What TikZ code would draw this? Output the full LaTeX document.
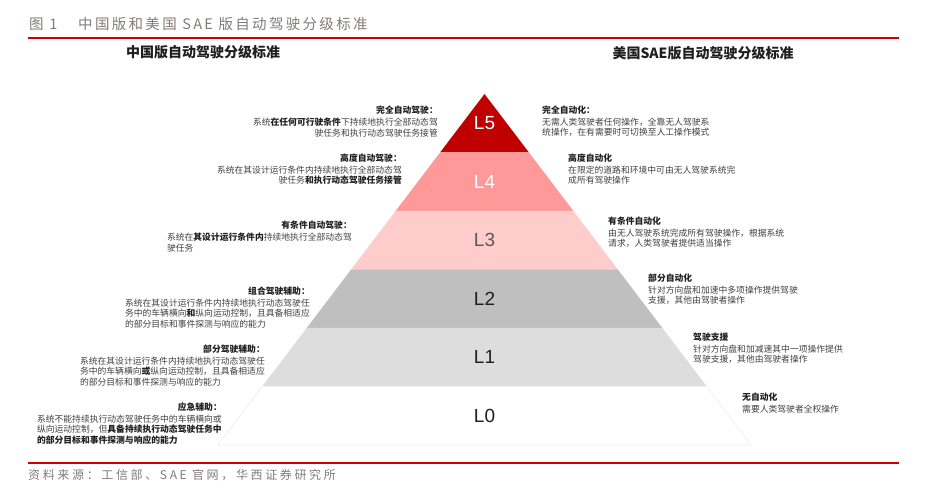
\documentclass[tikz,border=0pt]{standalone}
\usepackage{fontspec}
\setmainfont{Noto Sans CJK SC}
\newfontfamily\levelfont{Liberation Sans}
\newfontfamily\captionfont[LetterSpace=16]{Noto Sans CJK SC}
\newfontfamily\sourcefont[LetterSpace=22]{Noto Sans CJK SC}
\usepackage{tikz}
\usetikzlibrary{positioning}
\definecolor{ink}{HTML}{1F1F1F}
\definecolor{bodygray}{HTML}{404040}
\definecolor{headgray}{HTML}{847A7A}
\definecolor{rulered}{HTML}{CC0000}
\definecolor{lvfive}{HTML}{C00000}
\definecolor{lvfour}{HTML}{FF9999}
\definecolor{lvthree}{HTML}{FFCCCC}
\definecolor{lvtwo}{HTML}{BFBFBF}
\definecolor{lvone}{HTML}{DDDDDD}
\definecolor{lvzero}{HTML}{FFFFFF}
\definecolor{lvthreetext}{HTML}{595959}

\tikzset{
  levellabel/.style={font=\levelfont\fontsize{19}{22}\selectfont,inner sep=0pt},
  blocktitle/.style={font=\fontsize{8.8}{10.8}\selectfont\bfseries,text=ink,inner sep=0pt},
  blockbody/.style={font=\fontsize{8.8}{10.8}\selectfont,text=bodygray,inner sep=0pt},
  subhead/.style={font=\fontsize{14}{16}\selectfont\bfseries,text=ink,inner sep=0pt},
  captext/.style={font=\captionfont\fontsize{14.5}{17}\selectfont,text=headgray,inner sep=0pt,anchor=west},
  srctext/.style={font=\sourcefont\fontsize{12}{14}\selectfont,text=headgray,inner sep=0pt,anchor=west},
}
\newcommand{\keyterm}[1]{\textbf{\color{ink}#1}}

\begin{document}
\begin{tikzpicture}[x=1pt,y=-1pt]
  \useasboundingbox (0,0) rectangle (929,494);
  \def\apexx{484.5}
  \def\apexy{94}
  \def\layh{58.5}
  \def\slope{0.76}

  % Figure caption with its red rule.
  \node[captext] (capnum) at (29,24) {图 1};
  \node[captext] (captitle) at (78,24) {中国版和美国 SAE 版自动驾驶分级标准};
  \draw[rulered,line width=2.2pt] (28,38) -- (899,38);

  \node[subhead] (cnhead) at (203,52) {中国版自动驾驶分级标准};
  \node[subhead] (ushead) at (703,53) {美国SAE版自动驾驶分级标准};

  % Pyramid bands, top (L5) to bottom (L0).
  \foreach \lv/\fillc/\txtc [count=\i from 0] in
      {5/lvfive/white,4/lvfour/white,3/lvthree/lvthreetext,2/lvtwo/ink,1/lvone/ink,0/lvzero/ink}{
    \pgfmathsetmacro{\ya}{\apexy+\i*\layh}
    \pgfmathsetmacro{\yb}{\ya+\layh}
    \pgfmathsetmacro{\wa}{(\ya-\apexy)*\slope}
    \pgfmathsetmacro{\wb}{(\yb-\apexy)*\slope}
    \fill[\fillc] (\apexx-\wa,\ya) -- (\apexx+\wa,\ya) -- (\apexx+\wb,\yb)
      -- (\apexx-\wb,\yb) -- cycle;
    \node[levellabel,text=\txtc] (lv\lv) at (\apexx,{(\ya+\yb)/2}) {L\lv};
  }
  % L0 is white, only a faint outline shows it.
  \pgfmathsetmacro{\wz}{5*\layh*\slope}
  \pgfmathsetmacro{\wzb}{6*\layh*\slope}
  \draw[black!7,line width=0.6pt] (\apexx-\wz,\apexy+5*\layh) -- (\apexx-\wzb,\apexy+6*\layh)
    -- (\apexx+\wzb,\apexy+6*\layh) -- (\apexx+\wz,\apexy+5*\layh);

  % Chinese standard, left of the pyramid.
  \newcommand{\cnblock}[6]{%
    \node[blocktitle,anchor=east] (#1title) at (#2,#3) {#5};
    \node[blockbody,anchor=north east,align=#4] (#1body) at (#2,#3+7.5) {#6};
  }
  \cnblock{cnfive}{438}{110}{right}{完全自动驾驶：}
    {系统\keyterm{在任何可行驶条件}下持续地执行全部动态驾\\驶任务和执行动态驾驶任务接管}
  \cnblock{cnfour}{402}{158}{right}{高度自动驾驶：}
    {系统在其设计运行条件内持续地执行全部动态驾\\驶任务\keyterm{和执行动态驾驶任务接管}}
  \cnblock{cnthree}{352}{225}{left}{有条件自动驾驶：}
    {系统在\keyterm{其设计运行条件内}持续地执行全部动态驾\\驶任务}
  \cnblock{cntwo}{310}{291}{left}{组合驾驶辅助：}
    {系统在其设计运行条件内持续地执行动态驾驶任\\务中的车辆横向\keyterm{和}纵向运动控制，且具备相适应\\的部分目标和事件探测与响应的能力}
  \cnblock{cnone}{265}{349}{left}{部分驾驶辅助：}
    {系统在其设计运行条件内持续地执行动态驾驶任\\务中的车辆横向\keyterm{或}纵向运动控制，且具备相适应\\的部分目标和事件探测与响应的能力}
  \cnblock{cnzero}{222}{407}{left}{应急辅助：}
    {系统不能持续执行动态驾驶任务中的车辆横向或\\纵向运动控制，但\keyterm{具备持续执行动态驾驶任务中}\\\keyterm{的部分目标和事件探测与响应的能力}}

  % SAE standard, right of the pyramid.
  \newcommand{\usblock}[5]{%
    \node[blocktitle,anchor=west] (#1title) at (#2,#3) {#4};
    \node[blockbody,anchor=north west,align=left] (#1body) at (#2,#3+7.5) {#5};
  }
  \usblock{usfive}{542}{110}{完全自动化：}
    {无需人类驾驶者任何操作，全靠无人驾驶系\\统操作，在有需要时可切换至人工操作模式}
  \usblock{usfour}{568}{158}{高度自动化}
    {在限定的道路和环境中可由无人驾驶系统完\\成所有驾驶操作}
  \usblock{usthree}{608}{221}{有条件自动化}
    {由无人驾驶系统完成所有驾驶操作，根据系统\\请求，人类驾驶者提供适当操作}
  \usblock{ustwo}{648}{278}{部分自动化}
    {针对方向盘和加速中多项操作提供驾驶\\支援，其他由驾驶者操作}
  \usblock{usone}{693}{337}{驾驶支援}
    {针对方向盘和加减速其中一项操作提供\\驾驶支援，其他由驾驶者操作}
  \usblock{uszero}{742}{397}{无自动化}
    {需要人类驾驶者全权操作}

  % Source line.
  \draw[rulered,line width=2.6pt] (28,463) -- (899,463);
  \node[srctext] (source) at (28,475) {资料来源：工信部、SAE 官网，华西证券研究所};
\end{tikzpicture}
\end{document}
